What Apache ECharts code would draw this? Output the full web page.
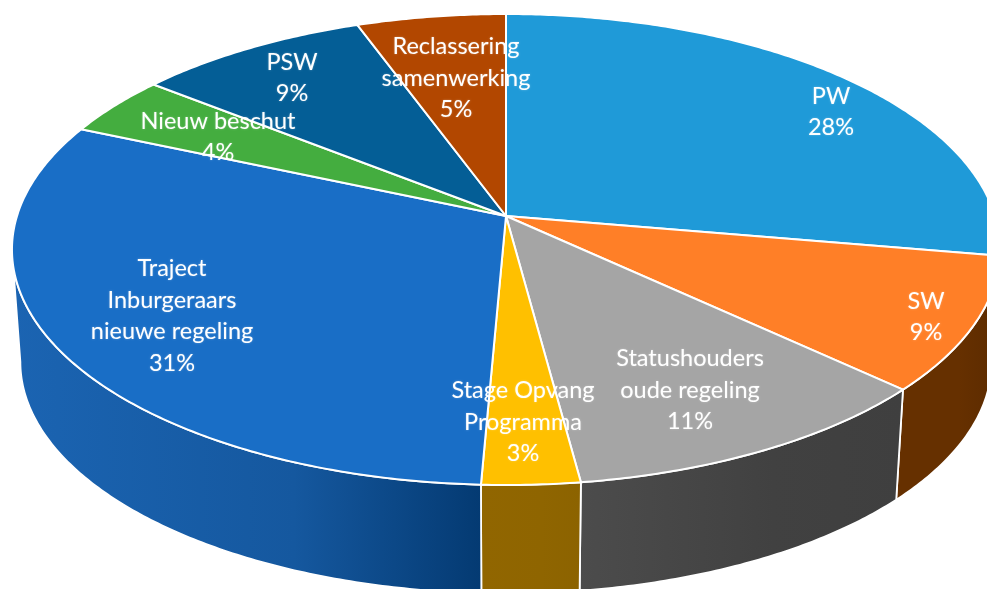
<!DOCTYPE html>
<html>
<head>
<meta charset="utf-8">
<style>html,body{margin:0;padding:0;background:#fff}#c{width:987px;height:589px}</style>
<script src="https://cdn.jsdelivr.net/npm/echarts@6/dist/echarts.min.js"></script>
</head>
<body>
<div id="c"></div>
<script>
// Data, clockwise from 12 o'clock
const categories = ['PW','SW','Statushouders\noude regeling','Stage Opvang\nProgramma','Traject\nInburgeraars\nnieuwe regeling','Nieuw beschut','PSW','Reclassering\nsamenwerking'];
const values = [27.7,9.2,11.0,2.8,30.8,4.15,8.75,5.6];
const percentLabels = ['28%','9%','11%','3%','31%','4%','9%','5%'];

// Presentation
const topColors = ['#1f9ad8','#ff7f27','#a5a5a5','#ffc000','#196ec6','#44ad3f','#045e96','#b24700'];
const wallColors = [
  ['#125a80','#125a80','#125a80'],
  ['#663000','#663000','#5c2b00'],
  ['#4c4c4c','#414141','#3f3f3f'],
  ['#916600','#8f6500','#8c6300'],
  ['#1b64b2','#15589f','#043a72'],
  ['#286824','#286824','#286824'],
  ['#033a5a','#033a5a','#033a5a'],
  ['#6b2b00','#6b2b00','#6b2b00']
];
const labelAnchors = [[831,112],[926,317],[690,390],[523,422],[172,316],[218,137],[292,78],[456,78]];

const cx=506, cy=216, P=0.1423, A=230.7, B=489, S=0.983, DROP=113;
const total = values.reduce((a,b)=>a+b,0);
function startOf(i){let s=0;for(let k=0;k<i;k++)s+=values[k];return s/total*2*Math.PI;}
function project(t,r){const u=r*Math.sin(t),v=r*Math.cos(t),d=1+P*v;return [cx+B*u/d,cy-A*v/d];}
function lower(p){return [cx+(p[0]-cx)*S,cy+(p[1]-cy)*S+DROP];}
function arc(a,b){const n=Math.max(2,Math.ceil((b-a)/0.01)),o=[];for(let k=0;k<=n;k++)o.push(project(a+(b-a)*k/n,1));return o;}

const visA=Math.acos(-P), visB=2*Math.PI-Math.acos(-P);

function wallItem(params,api){
  const i=params.dataIndex, a=startOf(i), b=a+api.value(0)/total*2*Math.PI;
  const s=Math.max(a,visA), e=Math.min(b,visB);
  if(e<=s) return {type:'group',children:[]};
  const rim=arc(s,e), pts=rim.concat(rim.map(lower).reverse());
  const c=wallColors[i];
  return {type:'polygon',shape:{points:pts},style:{
    fill:{type:'linear',x:0,y:0,x2:1,y2:0,colorStops:[{offset:0,color:c[0]},{offset:0.6,color:c[1]},{offset:1,color:c[2]}]},
    stroke:'#fff',lineWidth:1.8,lineJoin:'round'}};
}
function topItem(params,api){
  const i=params.dataIndex, a=startOf(i), b=a+api.value(0)/total*2*Math.PI;
  return {type:'polygon',shape:{points:[[cx,cy]].concat(arc(a,b))},style:{fill:topColors[i],stroke:'#fff',lineWidth:2,lineJoin:'round'}};
}
function labelItem(params,api){
  const i=params.dataIndex;
  return {type:'text',x:labelAnchors[i][0],y:labelAnchors[i][1],style:{
    text:categories[i]+'\n'+percentLabels[i],fill:'#fff',font:'400 23.5px Lato',lineHeight:31.5,align:'center',verticalAlign:'middle',
    textShadowColor:'rgba(255,255,255,0.35)',textShadowBlur:2}};
}
const rows=values.map(v=>[v]);
const chart=echarts.init(document.getElementById('c'),null,{renderer:'canvas',width:987,height:589});
chart.setOption({
  animation:false,backgroundColor:'#fff',
  series:[
    {type:'custom',coordinateSystem:'none',renderItem:wallItem,data:rows,z:1,silent:true},
    {type:'custom',coordinateSystem:'none',renderItem:topItem,data:rows,z:2,silent:true},
    {type:'custom',coordinateSystem:'none',renderItem:labelItem,data:rows,z:3,silent:true}
  ]
});
</script>
</body>
</html>
